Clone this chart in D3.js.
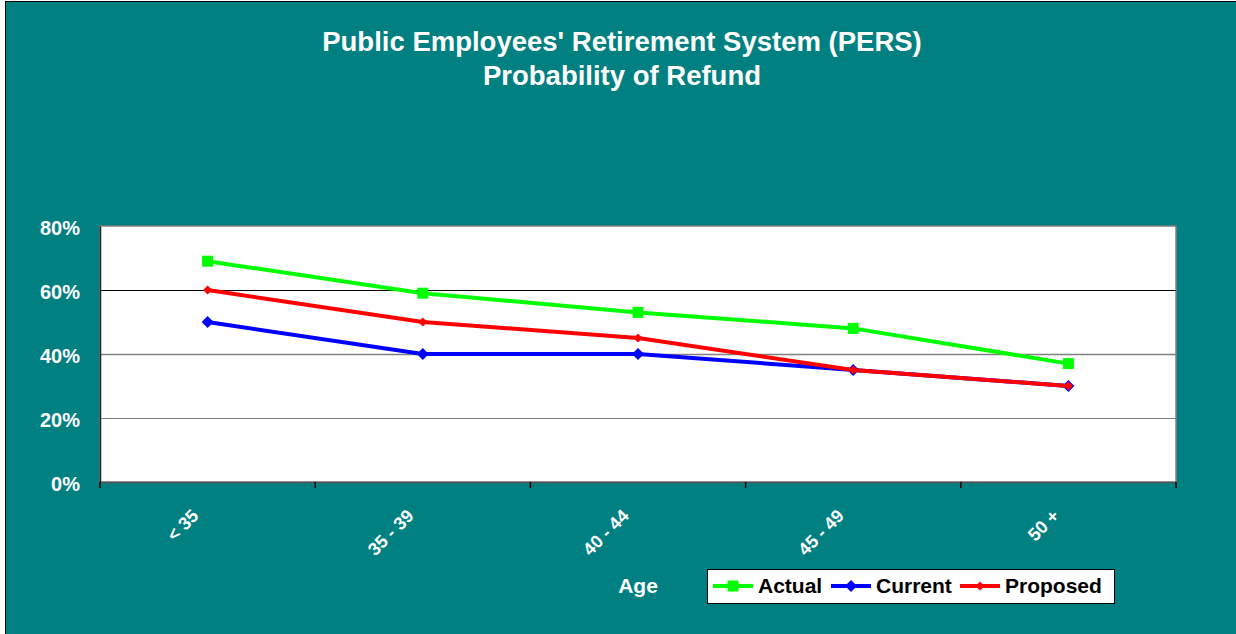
<!DOCTYPE html>
<html>
<head>
<meta charset="utf-8">
<script src="https://cdn.jsdelivr.net/npm/d3@7"></script>
<style>
  html, body { margin: 0; padding: 0; background: #fff; }
  svg { display: block; font-family: "Liberation Sans", Arial, sans-serif; }
</style>
</head>
<body>
<div id="chart"></div>
<script>
(function() {
  var width = 1236;
  var height = 634;

  // data
  var categories = ['< 35', '35 - 39', '40 - 44', '45 - 49', '50 +'];
  var actual = [69, 59, 53, 48, 37];
  var current = [50, 40, 40, 35, 30];
  var proposed = [60, 50, 45, 35, 30];
  var yTicks = [0, 20, 40, 60, 80];
  var titleLines = ["Public Employees' Retirement System (PERS)", 'Probability of Refund'];

  var series = [
    { name: 'Actual', values: actual, color: '#00ff00', marker: 'square', size: 11 },
    { name: 'Current', values: current, color: '#0000ff', marker: 'diamond', size: 12 },
    { name: 'Proposed', values: proposed, color: '#ff0000', marker: 'diamond', size: 9 }
  ];

  var plot = { left: 100, top: 226, right: 1176, bottom: 482 };

  var svg = d3.select('#chart').append('svg')
    .attr('width', width)
    .attr('height', height);

  // teal chart area with thin black frame
  svg.append('rect')
    .attr('x', 5.5).attr('y', 1.5)
    .attr('width', width).attr('height', height)
    .attr('fill', '#008080')
    .attr('stroke', '#000');

  // title
  svg.append('g').selectAll('text')
    .data(titleLines)
    .enter().append('text')
    .attr('x', 622)
    .attr('y', function(d, i) { return 51 + i * 34; })
    .attr('text-anchor', 'middle')
    .attr('fill', '#fff')
    .attr('font-weight', 'bold')
    .attr('font-size', 27.5)
    .text(function(d) { return d; });

  var x = d3.scaleBand().domain(categories).range([plot.left, plot.right]);
  var y = d3.scaleLinear().domain([0, 80]).range([plot.bottom, plot.top]);

  // plot area
  svg.append('rect')
    .attr('x', plot.left).attr('y', plot.top)
    .attr('width', plot.right - plot.left).attr('height', plot.bottom - plot.top)
    .attr('fill', '#fff')
    .attr('stroke', '#808080')
    .attr('stroke-width', 1.5);

  // gridlines
  svg.append('g').selectAll('line')
    .data(yTicks.filter(function(d) { return d > 0 && d < 80; }))
    .enter().append('line')
    .attr('x1', plot.left).attr('x2', plot.right)
    .attr('y1', function(d) { return y(d) + 0.5; })
    .attr('y2', function(d) { return y(d) + 0.5; })
    .attr('stroke', function(d) { return d === 60 ? '#000' : '#808080'; })
    .attr('stroke-width', function(d) { return d === 40 ? 1.6 : 1.2; });

  // y axis
  var yAxis = svg.append('g')
    .attr('transform', 'translate(' + plot.left + ',0)')
    .call(d3.axisLeft(y).tickValues(yTicks).tickSize(0).tickPadding(20)
      .tickFormat(function(d) { return d + '%'; }));
  yAxis.select('.domain').attr('stroke', '#222').attr('stroke-width', 1.5);
  yAxis.selectAll('text')
    .attr('fill', '#fff')
    .attr('font-size', 20)
    .attr('font-weight', 'bold')
    .attr('font-family', '"Liberation Sans", Arial, sans-serif')
    .attr('dy', '0.4em');

  // x axis, labels rotated, ticks at category borders
  var xAxis = svg.append('g')
    .attr('transform', 'translate(0,' + plot.bottom + ')')
    .call(d3.axisBottom(x).tickSize(0));
  xAxis.select('.domain').attr('stroke', '#555').attr('stroke-width', 1.5);
  xAxis.selectAll('text')
    .attr('fill', '#fff')
    .attr('font-size', 18)
    .attr('font-weight', 'bold')
    .attr('font-family', '"Liberation Sans", Arial, sans-serif')
    .attr('text-anchor', 'end')
    .attr('dy', 0)
    .attr('y', 0)
    .attr('transform', 'translate(-8,35) rotate(-45)');

  var borders = categories.map(function(c) { return x(c); }).concat([plot.right]);
  svg.append('g').selectAll('line')
    .data(borders)
    .enter().append('line')
    .attr('x1', function(d) { return d; })
    .attr('x2', function(d) { return d; })
    .attr('y1', plot.bottom)
    .attr('y2', plot.bottom + 6)
    .attr('stroke', '#000')
    .attr('stroke-width', 1.5);

  svg.append('text')
    .attr('x', 638).attr('y', 593)
    .attr('text-anchor', 'middle')
    .attr('fill', '#fff')
    .attr('font-size', 21)
    .attr('font-weight', 'bold')
    .text('Age');

  // lines
  var line = d3.line()
    .x(function(d, i) { return x(categories[i]) + x.bandwidth() / 2; })
    .y(function(d) { return y(d); });

  function markerPath(s) {
    var h = s.size / 2;
    if (s.marker === 'square') {
      return 'M' + -h + ',' + -h + 'H' + h + 'V' + h + 'H' + -h + 'Z';
    }
    return 'M0,' + -h + 'L' + h + ',0L0,' + h + 'L' + -h + ',0Z';
  }

  var seriesG = svg.append('g').selectAll('g')
    .data(series)
    .enter().append('g');

  seriesG.append('path')
    .attr('d', function(s) { return line(s.values); })
    .attr('fill', 'none')
    .attr('stroke', function(s) { return s.color; })
    .attr('stroke-width', 4)
    .attr('stroke-linejoin', 'round');

  seriesG.each(function(s) {
    d3.select(this).selectAll('.marker')
      .data(s.values)
      .enter().append('path')
      .attr('class', 'marker')
      .attr('d', markerPath(s))
      .attr('fill', s.color)
      .attr('transform', function(d, i) {
        return 'translate(' + (x(categories[i]) + x.bandwidth() / 2) + ',' + y(d) + ')';
      });
  });

  // legend
  var legend = svg.append('g');
  legend.append('rect')
    .attr('x', 707.5).attr('y', 569.5)
    .attr('width', 407).attr('height', 34)
    .attr('fill', '#fff')
    .attr('stroke', '#000');

  var legendX = [713, 831, 960];
  var item = legend.selectAll('.item')
    .data(series)
    .enter().append('g')
    .attr('class', 'item')
    .attr('transform', function(d, i) { return 'translate(' + legendX[i] + ',586)'; });

  item.append('line')
    .attr('x1', 0).attr('x2', 40)
    .attr('stroke', function(s) { return s.color; })
    .attr('stroke-width', 4);
  item.append('path')
    .attr('d', markerPath)
    .attr('transform', 'translate(20,0)')
    .attr('fill', function(s) { return s.color; });
  item.append('text')
    .attr('x', 45).attr('y', 7)
    .attr('font-size', 21)
    .attr('font-weight', 'bold')
    .attr('fill', '#000')
    .text(function(s) { return s.name; });
}).call(this);
</script>
</body>
</html>
